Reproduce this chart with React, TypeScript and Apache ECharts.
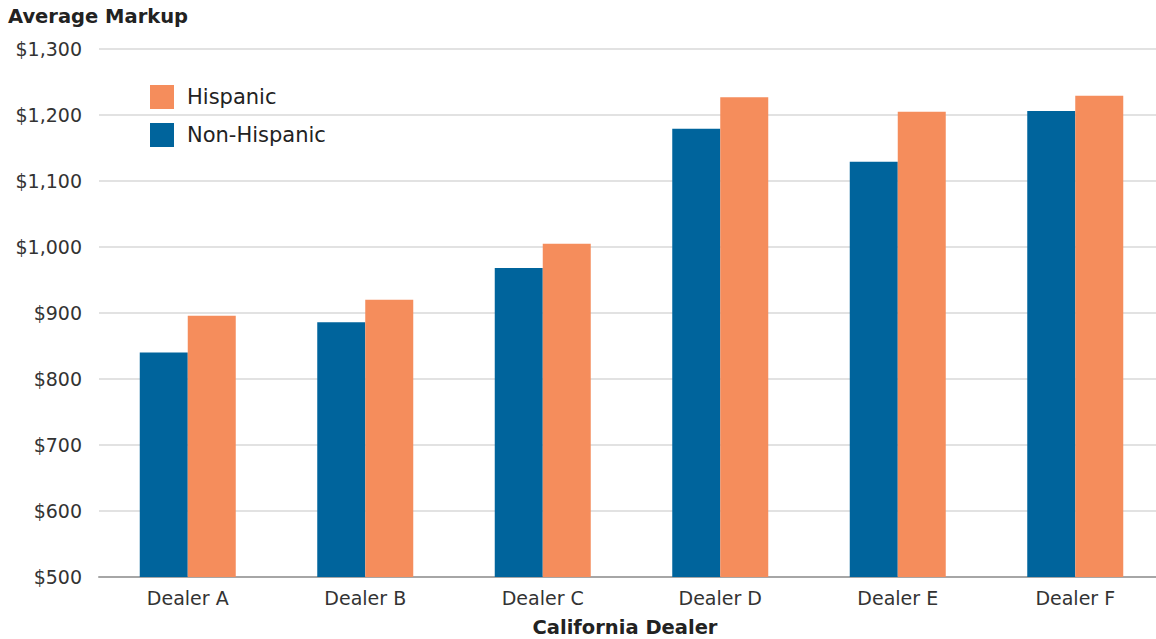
import React, { useEffect, useRef } from "react";
import * as echarts from "echarts";

const categories = ["Dealer A", "Dealer B", "Dealer C", "Dealer D", "Dealer E", "Dealer F"];
const nonHispanic = [840, 886, 968, 1179, 1129, 1206];
const hispanic = [896, 920, 1005, 1227, 1205, 1229];
const yTicks = { min: 500, max: 1300, interval: 100 };

const FONT = "DejaVu Sans";

export default function App() {
  const ref = useRef<HTMLDivElement>(null);
  useEffect(() => {
    document.body.style.margin = "0";
    const chart = echarts.init(ref.current!, undefined, { renderer: "svg" });
    chart.setOption({
      animation: false,
      textStyle: { fontFamily: FONT },
      grid: { left: 99, right: 0, top: 49, bottom: 62, containLabel: false },
      legend: {
        orient: "vertical",
        left: 150,
        top: 85,
        padding: 0,
        itemWidth: 24,
        itemHeight: 24,
        itemGap: 14,
        icon: "rect",
        data: ["Hispanic", "Non-Hispanic"],
        textStyle: { fontSize: 21, color: "#222", fontFamily: FONT, padding: [2, 0, 0, 8] },
      },
      graphic: [
        {
          type: "text",
          x: 8,
          y: 6,
          style: { text: "Average Markup", fontSize: 19.5, fontWeight: "bold", fill: "#222", fontFamily: FONT, verticalAlign: "top" },
        },
        {
          type: "text",
          x: 625,
          y: 627,
          style: { text: "California Dealer", fontSize: 19.5, fontWeight: "bold", fill: "#222", fontFamily: FONT, align: "center", verticalAlign: "middle" },
        },
      ],
      xAxis: {
        type: "category",
        data: categories,
        axisTick: { show: false },
        axisLine: { lineStyle: { color: "#a6a6a6", width: 2 } },
        axisLabel: { fontSize: 19, color: "#333", margin: 11, fontFamily: FONT },
      },
      yAxis: {
        type: "value",
        min: yTicks.min,
        max: yTicks.max,
        interval: yTicks.interval,
        axisLine: { show: false },
        axisTick: { show: false },
        splitLine: { lineStyle: { color: "#d9d9d9", width: 1.5 } },
        axisLabel: {
          fontSize: 19,
          color: "#333",
          margin: 17,
          fontFamily: FONT,
          formatter: (v: number) => "$" + v.toLocaleString("en-US"),
        },
      },
      series: [
        {
          name: "Non-Hispanic",
          type: "bar",
          data: nonHispanic,
          barWidth: 48,
          barGap: "0%",
          itemStyle: { color: "#00649c" },
        },
        {
          name: "Hispanic",
          type: "bar",
          data: hispanic,
          barWidth: 48,
          barGap: "0%",
          itemStyle: { color: "#f58d5c" },
        },
      ],
    });
    return () => chart.dispose();
  }, []);
  return (
    <div style={{ width: 1156, height: 639, overflow: "hidden", position: "relative" }}>
      <div ref={ref} style={{ width: 1164, height: 639 }} />
    </div>
  );
}
